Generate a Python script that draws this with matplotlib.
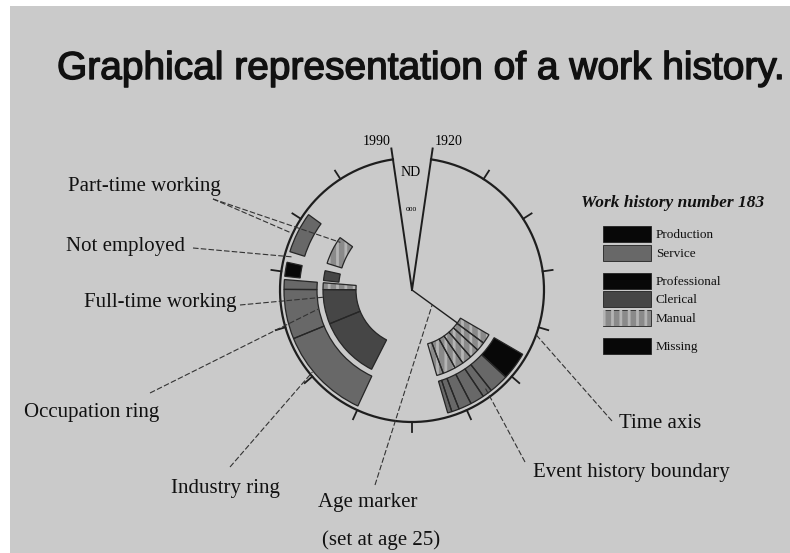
import numpy as np
import matplotlib
matplotlib.use('Agg')
import matplotlib.pyplot as plt
from matplotlib.patches import Wedge, Rectangle
import matplotlib.patheffects as pe

# --- work history 183: spells as calendar years -------------------------
# outer ring = industry, inner ring = occupation
ind_start = [1942.8, 1945.4, 1947.2, 1948.1, 1949.4, 1950.6, 1951.3,
             1960.1, 1968.8, 1973.4, 1974.6, 1976.9]
ind_end = [1945.4, 1947.2, 1948.1, 1949.4, 1950.6, 1951.3, 1951.7,
           1968.8, 1973.4, 1974.3, 1975.9, 1980.7]
ind_code = ['Production', 'Service', 'Service', 'Service', 'Service', 'Service', 'Service',
            'Service', 'Service', 'Service', 'Production', 'Service']
ind_hours = ['full'] * 10 + ['part', 'part']

occ_start = [1942.8, 1944.1, 1945.3, 1946.6, 1947.9, 1949.1, 1950.8,
             1960.5, 1968.8, 1973.4, 1974.6, 1976.9]
occ_end = [1944.1, 1945.3, 1946.6, 1947.9, 1949.1, 1950.8, 1951.7,
           1968.8, 1973.4, 1974.3, 1975.9, 1980.7]
occ_code = ['Manual'] * 7 + ['Clerical', 'Clerical', 'Manual', 'Clerical', 'Manual']
occ_hours = ['full'] * 10 + ['part', 'part']

first_year, last_year = 1920, 1990
tick_years = list(range(1925, 1990, 5))
age_marker_year = 1944   # age 25

legend_labels = ['Production', 'Service', 'Professional', 'Clerical', 'Manual', 'Missing']

colors = {'Production': '#080808', 'Service': '#686868', 'Professional': '#080808',
          'Clerical': '#464646', 'Manual': '#8a8a8a', 'Missing': '#080808'}

# --- geometry (pixel space) ---------------------------------------------
CX, CY = 412, 290
R = 132
GAP = 8.3                      # half-gap at the top, degrees
DEG_PER_YEAR = (360 - 2 * GAP) / (last_year - first_year)
OCC_R = (56, 89)
IND_R = (95, 128)


def theta(year):
    return GAP + (np.asarray(year) - first_year) * DEG_PER_YEAR


def polar(year, r):
    t = np.radians(theta(year))
    return CX + r * np.sin(t), CY - r * np.cos(t)


def ring_wedge(ax, y0, y1, radii, hours, code):
    r_in, r_out = radii
    if hours == 'part':
        r_in = (r_in + r_out) / 2 + 1
    t1, t2 = theta(y0) - 90, theta(y1) - 90
    ax.add_patch(Wedge((CX, CY), r_out, t1, t2, width=r_out - r_in,
                       facecolor=colors[code], edgecolor='none', zorder=3))
    if code == 'Manual':
        ax.add_patch(Wedge((CX, CY), r_out, t1, t2, width=r_out - r_in,
                           facecolor='none', edgecolor='#b4b4b4', lw=0,
                           hatch='||', zorder=3.5))
    ax.add_patch(Wedge((CX, CY), r_out, t1, t2, width=r_out - r_in,
                       facecolor='none', edgecolor='#262626', lw=0.9, zorder=4))


plt.rcParams['hatch.linewidth'] = 2.0
fig = plt.figure(figsize=(7.9, 5.53), dpi=100, facecolor='white')
ax = fig.add_axes([0, 0, 1, 1])
ax.set_xlim(0, 790)
ax.set_ylim(553, 0)
ax.axis('off')
ax.add_patch(Rectangle((10, 6), 780, 547, facecolor='#cacaca', edgecolor='none', zorder=0))

serif = 'Liberation Serif'

# title
ax.text(57, 69, 'Graphical representation of a work history.', fontsize=28,
        family='Liberation Sans', va='center', ha='left', color='#111111',
        path_effects=[pe.withStroke(linewidth=1.0, foreground='#111111')])

# time axis circle
yrs = np.linspace(first_year, last_year, 400)
x, y = polar(yrs, R)
ax.plot(x, y, color='#1e1e1e', lw=1.6, zorder=2)
for ty in tick_years:
    x, y = polar([ty, ty], [R, R + 10])
    ax.plot(x, y, color='#1e1e1e', lw=1.3, zorder=2)

# start / end spokes
for yr, dx in [(first_year, 16), (last_year, -15)]:
    x, y = polar([yr, yr], [0, R + 11])
    ax.plot(x, y, color='#1e1e1e', lw=1.4, zorder=2)
    ax.text(x[1] + dx, y[1] - 7, str(yr), fontsize=10, family=serif, ha='center', va='center')
ax.text(CX - 1, 172, 'ND', fontsize=10, family=serif, ha='center', va='center')
ax.text(CX - 1, 209, 'ooo', fontsize=5.5, family=serif, ha='center', va='center')

# age marker radial line
x, y = polar([age_marker_year, age_marker_year], [0, 70])
ax.plot(x, y, color='#1e1e1e', lw=1.0, zorder=2)

# rings
for y0, y1, c, h in zip(ind_start, ind_end, ind_code, ind_hours):
    ring_wedge(ax, y0, y1, IND_R, h, c)
for y0, y1, c, h in zip(occ_start, occ_end, occ_code, occ_hours):
    ring_wedge(ax, y0, y1, OCC_R, h, c)

# annotations: label text, text anchor, line start, target (year, radius)
annotations = [
    ('Part-time working', (144, 186), (213, 199), [(1980.2, 86), (1978.5, 134)]),
    ('Not employed', (125, 247), (193, 248), [(1976.5, 124)]),
    ('Full-time working', (160, 302), (240, 305), [(1972.4, 87)]),
    ('Occupation ring', (92, 413), (150, 393), [(1971.0, 96)]),
    ('Industry ring', (225, 488), (230, 467), [(1965.3, 129)]),
    ('Time axis', (660, 424), (612, 421), [(1940.7, R)]),
    ('Event history boundary', (631, 473), (525, 462), [(1947.5, 122)]),
]
for label, (tx, ty), (lx, ly), targets in annotations:
    ax.text(tx, ty, label, fontsize=15, family=serif, ha='center', va='center', color='#111111')
    for yr, r in targets:
        ex, ey = polar(yr, r)
        ax.plot([lx, ex], [ly, ey], color='#333333', lw=0.8, ls=(0, (5, 2)), zorder=5)

ax.text(368, 503, 'Age marker', fontsize=15, family=serif, ha='center', va='center', color='#111111')
ax.text(381, 540, '(set at age 25)', fontsize=15, family=serif, ha='center', va='center', color='#111111')
ex, ey = polar(age_marker_year, 25)
ax.plot([375, ex], [485, ey], color='#333333', lw=0.8, ls=(0, (5, 2)), zorder=5)

# legend
ax.text(673, 203, 'Work history number 183', fontsize=12.5, family=serif,
        style='italic', weight='bold', ha='center', va='center', color='#111111')
leg_y = [234, 253, 281, 299, 318, 346]
for lab, ly in zip(legend_labels, leg_y):
    ax.add_patch(Rectangle((603, ly - 8), 48, 15.5, facecolor=colors[lab],
                           edgecolor='#222222', lw=0.6, zorder=3))
    if lab == 'Manual':
        ax.add_patch(Rectangle((603, ly - 8), 48, 15.5, facecolor='none',
                               edgecolor='#b4b4b4', lw=0, hatch='||', zorder=3.5))
    ax.text(656, ly + 1, lab, fontsize=9.5, family=serif, ha='left', va='center', color='#111111')

fig.savefig('out.png', dpi=100, facecolor=fig.get_facecolor())
